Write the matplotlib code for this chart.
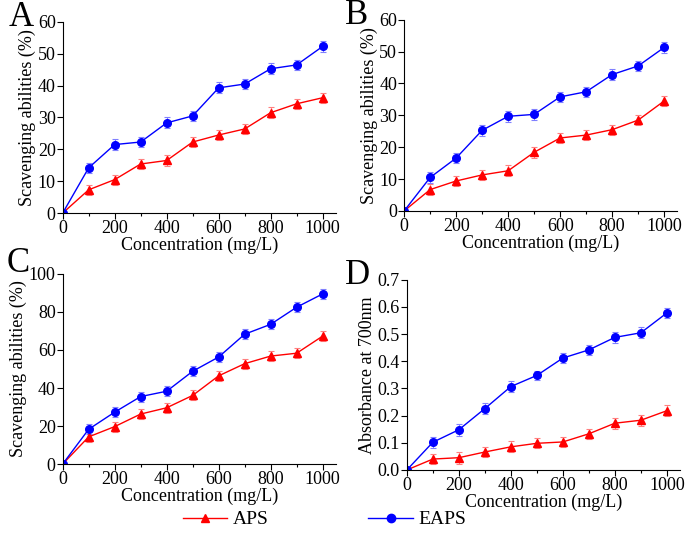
import matplotlib
matplotlib.use("Agg")
import matplotlib.pyplot as plt
import numpy as np
from matplotlib.ticker import MultipleLocator, FormatStrFormatter
from matplotlib.lines import Line2D

plt.rcParams['font.family'] = ['Liberation Serif', 'DejaVu Serif']

conc = [0, 100, 200, 300, 400, 500, 600, 700, 800, 900, 1000]

# A
a_eaps = [0, 14.2, 21.5, 22.3, 28.3, 30.5, 39.3, 40.5, 45.3, 46.5, 52.3]
a_aps = [0, 7.3, 10.5, 15.4, 16.5, 22.3, 24.5, 26.4, 31.5, 34.3, 36.2]
a_err = [0, 1.6, 1.6, 1.6, 1.7, 1.6, 1.7, 1.7, 1.7, 1.6, 1.6]
# B
b_eaps = [0, 10.5, 16.6, 25.3, 29.7, 30.3, 35.8, 37.4, 42.8, 45.5, 51.3]
b_aps = [0, 6.7, 9.4, 11.3, 12.6, 18.4, 22.9, 23.8, 25.5, 28.5, 34.5]
b_err = [0, 1.6, 1.6, 1.7, 1.7, 1.7, 1.6, 1.6, 1.6, 1.6, 1.6]
# C
c_eaps = [0, 18.3, 27.3, 35.5, 38.3, 48.8, 56.3, 68.3, 73.5, 82.5, 89.5]
c_aps = [0, 14.3, 19.7, 26.3, 29.6, 36.1, 46.4, 52.8, 56.8, 58.3, 67.3]
c_err = [0, 2.6, 2.6, 2.6, 2.7, 2.6, 2.7, 2.6, 2.7, 2.7, 2.8]
# D
d_eaps = [0, 0.102, 0.148, 0.226, 0.307, 0.348, 0.412, 0.442, 0.488, 0.505, 0.578]
d_aps = [0, 0.040, 0.045, 0.066, 0.085, 0.098, 0.103, 0.133, 0.172, 0.183, 0.218]
d_err = [0, 0.02, 0.022, 0.02, 0.02, 0.018, 0.02, 0.018, 0.02, 0.02, 0.02]

# буква, APS, EAPS, ошибка, пределы y, шаг, подпись, положение осей, формат, положение буквы
panels = [
    ("A", a_aps, a_eaps, a_err, (0, 60), 10, "Scavenging abilities (%)",
     [0.0915, 0.601, 0.3985, 0.358], "%d", (21, 17)),
    ("B", b_aps, b_eaps, b_err, (0, 60), 10, "Scavenging abilities (%)",
     [0.590, 0.605, 0.3985, 0.358], "%d", (357, 16)),
    ("C", c_aps, c_eaps, c_err, (0, 100), 20, "Scavenging abilities (%)",
     [0.0915, 0.131, 0.3985, 0.356], "%d", (18, 263)),
    ("D", d_aps, d_eaps, d_err, (0, 0.7), 0.1, "Absorbance at 700nm",
     [0.594, 0.120, 0.3985, 0.356], "%.1f", (357, 275)),
]

red = '#ff0000'
blue = '#0000ff'
W, H = 685, 534

fig = plt.figure(figsize=(6.85, 5.34), dpi=100)

for letter, aps, eaps, err, ylim, ystep, ylabel, rect, fmt, lpos in panels:
    ax = fig.add_axes(rect)
    ax.errorbar(conc, aps, yerr=err, color=red, ecolor='#ff8080', lw=1.0, elinewidth=0.8,
                capsize=2, capthick=0.8, marker='^', ms=5.5)
    ax.errorbar(conc, eaps, yerr=err, color=blue, ecolor='#8080ff', lw=1.0, elinewidth=0.8,
                capsize=2, capthick=0.8, marker='o', ms=5.5)
    ax.set_xlim(0, 1050)
    ax.set_ylim(*ylim)
    ax.xaxis.set_major_locator(MultipleLocator(200))
    ax.xaxis.set_minor_locator(MultipleLocator(100))
    ax.yaxis.set_major_locator(MultipleLocator(ystep))
    ax.yaxis.set_major_formatter(FormatStrFormatter(fmt))
    ax.spines['top'].set_visible(False)
    ax.spines['right'].set_visible(False)
    ax.tick_params(direction='out', length=4, width=0.8, labelsize=13, pad=1)
    ax.tick_params(which='minor', direction='out', length=2, width=0.8)
    ax.set_xlabel("Concentration (mg/L)", fontsize=13, labelpad=0)
    ax.set_ylabel(ylabel, fontsize=13, labelpad=1)
    fig.text(lpos[0] / W, 1 - lpos[1] / H, letter, fontsize=25, va='center', ha='center')

# легенда
handles = [Line2D([], [], color=red, lw=1.0, marker='^', ms=6),
           Line2D([], [], color=blue, lw=1.0, marker='o', ms=6)]
fig.legend(handles, ['APS', 'EAPS'], loc='center', bbox_to_anchor=(0.474, 0.027), ncol=2,
           frameon=False, fontsize=14, handlelength=2.3, columnspacing=5.1, handletextpad=0.3)

fig.savefig("out.png", dpi=100)
